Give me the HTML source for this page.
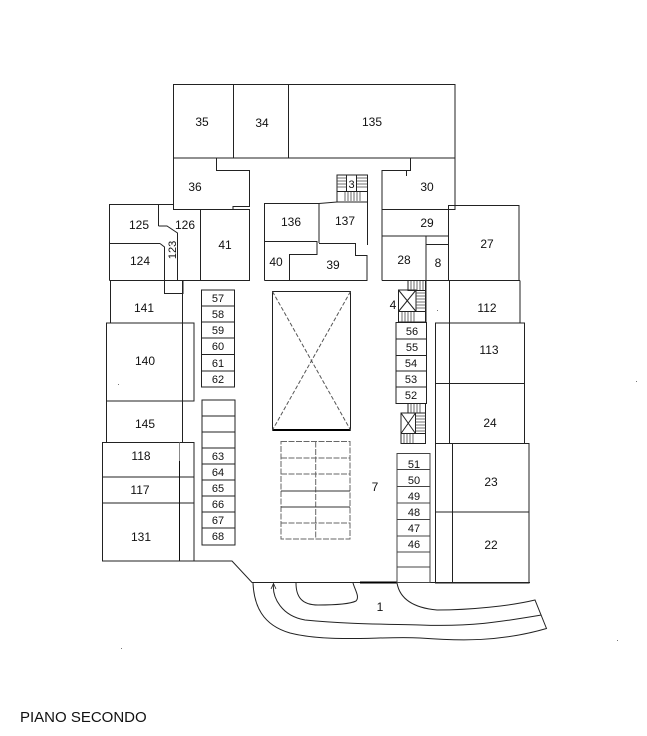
<!DOCTYPE html>
<html><head><meta charset="utf-8"><style>
html,body{margin:0;padding:0;background:#fff;}
svg{display:block;}
text{font-family:"Liberation Sans",sans-serif;fill:#111;}
</style></head><body>
<svg width="647" height="736" viewBox="0 0 647 736" xmlns="http://www.w3.org/2000/svg">
<g fill="none" stroke="#222" stroke-width="1">
<!-- top building -->
<rect x="173.5" y="84.5" width="281.5" height="73.5"/>
<line x1="233.5" y1="84.5" x2="233.5" y2="158"/>
<line x1="288.5" y1="84.5" x2="288.5" y2="158"/>
<!-- 36 -->
<path d="M173.5,158 L173.5,209.5 L233,209.5 L233,206.5 L249.5,206.5 L249.5,170.5 L216.5,170.5 L216.5,158"/>
<!-- 30 -->
<path d="M410.5,158 L410.5,170.5 L382,170.5 L382,209.5 L455,209.5 L455,158"/>
<line x1="406.5" y1="170" x2="406.5" y2="176"/>
<!-- 29 28 8 -->
<path d="M382,209.5 L382,280.5 M448.5,209.5 L448.5,280.5 M382,236 L448.5,236 M426,236 L426,280.5 M426,244.5 L448.5,244.5"/>
<!-- 27 -->
<rect x="448.5" y="205.5" width="70.5" height="75"/>
<line x1="382" y1="280.5" x2="520" y2="280.5"/>
<!-- 125/126/124/41 -->
<path d="M109.5,280.5 L109.5,204.5 L173.5,204.5"/>
<line x1="158.5" y1="204.5" x2="158.5" y2="226"/>
<line x1="109.5" y1="243.5" x2="160" y2="243.5"/>
<path d="M158.5,226 L167,226 L177.5,233 L177.5,280.5 L183,280.5 L183,293.5 L164.5,293.5 L164.5,247 L160,243.5"/>
<rect x="200.5" y="209.5" width="49" height="71"/>
<line x1="109.5" y1="280.5" x2="249.5" y2="280.5"/>
<!-- 141 140 145 -->
<line x1="110.5" y1="280.5" x2="110.5" y2="323"/>
<line x1="182.5" y1="280.5" x2="182.5" y2="442.5"/>
<rect x="106.5" y="323" width="87.5" height="78"/>
<line x1="106.5" y1="401" x2="106.5" y2="442.5"/>
<!-- 118 117 131 -->
<rect x="102.5" y="442.5" width="91.5" height="118.5"/>
<line x1="102.5" y1="477" x2="194" y2="477"/>
<line x1="102.5" y1="503" x2="194" y2="503"/>
<line x1="179.5" y1="442.5" x2="179.5" y2="461" stroke="#888"/>
<line x1="179.5" y1="461" x2="179.5" y2="561" stroke="#111"/>
<!-- bottom outline -->
<path d="M102.5,561 L232,561 L252,582.5 L530,582.5"/>
<line x1="360" y1="582.5" x2="397" y2="582.5" stroke="#000" stroke-width="2"/>
<!-- 136 137 40 39 -->
<path d="M264.5,280.5 L264.5,203.5 L319,203.5 L337,202"/>
<line x1="319" y1="203.5" x2="319" y2="243"/>
<path d="M264.5,241.5 L317,241.5 L317,254.5 L289.5,254.5 L289.5,280.5"/>
<path d="M319,243.5 L355.5,243.5 L355.5,255.5 L367,255.5 L367,280.5 L264.5,280.5"/>
<line x1="367.5" y1="175" x2="367.5" y2="245"/>
<!-- stair 3 -->
<rect x="337" y="175" width="30.5" height="27"/>
<rect x="346.5" y="175" width="10" height="16.5"/>
<path d="M337,191.5 L367.5,191.5" />
<g stroke="#444" stroke-width="0.8">
<path d="M337,178 H346.5 M337,181 H346.5 M337,184 H346.5 M337,187 H346.5 M357,178 H367 M357,181 H367 M357,184 H367 M357,187 H367"/>
<path d="M345,192 V201 M348,192 V201 M351,192 V201 M354,192 V201 M357,192 V201 M360,192 V201"/>
</g>
<!-- lockers 57-62 -->
<rect x="201.5" y="290" width="33" height="97"/>
<path d="M201.5,306 H234.5 M201.5,322 H234.5 M201.5,338 H234.5 M201.5,354.5 H234.5 M201.5,371 H234.5"/>
<!-- lockers 63-68 -->
<rect x="202" y="400" width="33" height="145"/>
<path d="M202,416 H235 M202,432 H235 M202,448 H235 M202,464 H235 M202,480 H235 M202,496 H235 M202,512 H235 M202,528 H235"/>
<!-- X box -->
<rect x="272.5" y="291.5" width="78" height="138.5"/>
<line x1="272.5" y1="430" x2="350.5" y2="430" stroke="#000" stroke-width="2"/>
<path d="M272.5,291.5 L350.5,430 M350.5,291.5 L272.5,430" stroke="#555" stroke-dasharray="4,2"/>
<!-- parking grid -->
<g stroke="#666" stroke-dasharray="6,1.5">
<rect x="281" y="441.5" width="69" height="97.5"/>
<path d="M315.7,441.5 V539 M281,458 H350 M281,474 H350 M281,523 H350"/>
</g>
<path d="M281,491 H350 M281,507 H350" stroke="#333"/>
<!-- stair 4 -->
<rect x="408" y="280.5" width="17.5" height="10"/>
<rect x="398.5" y="290" width="17.5" height="21.5"/>
<path d="M398.5,290 L416,311.5 M416,290 L398.5,311.5"/>
<rect x="398.5" y="311.5" width="27" height="10.5"/>
<line x1="425.5" y1="280.5" x2="425.5" y2="322"/>
<g stroke="#444" stroke-width="0.8">
<path d="M411,281 V290 M414,281 V290 M417,281 V290 M420,281 V290 M423,281 V290"/>
<path d="M416,293 H425.5 M416,296 H425.5 M416,299 H425.5 M416,302 H425.5 M416,305 H425.5 M416,308 H425.5"/>
<path d="M402,312 V322 M405,312 V322 M408,312 V322 M411,312 V322 M414,312 V322"/>
</g>
<!-- lockers 56-52 -->
<rect x="396" y="322.5" width="30.5" height="81"/>
<path d="M396,339 H426.5 M396,355.5 H426.5 M396,371 H426.5 M396,387 H426.5"/>
<!-- stair 5 -->
<rect x="408" y="403.5" width="17.5" height="9.5"/>
<rect x="401" y="413" width="14.5" height="20.5"/>
<path d="M401,413 L415.5,433.5 M415.5,413 L401,433.5"/>
<rect x="401" y="433.5" width="24.5" height="10"/>
<line x1="425.5" y1="403.5" x2="425.5" y2="443.5"/>
<g stroke="#444" stroke-width="0.8">
<path d="M411,404 V413 M414,404 V413 M417,404 V413 M420,404 V413"/>
<path d="M415.5,416 H425.5 M415.5,419 H425.5 M415.5,422 H425.5 M415.5,425 H425.5 M415.5,428 H425.5 M415.5,431 H425.5"/>
<path d="M404,434 V443 M407,434 V443 M410,434 V443 M413,434 V443"/>
</g>
<!-- lockers 51-46 -->
<rect x="397" y="453.5" width="33" height="129" stroke="#444"/>
<path d="M397,469.5 H430 M397,486.5 H430 M397,503 H430 M397,519.5 H430 M397,536 H430 M397,552 H430 M397,567 H430" stroke="#444"/>
<!-- right column -->
<line x1="426" y1="280.5" x2="426" y2="323"/>
<line x1="449.5" y1="280.5" x2="449.5" y2="383.5"/>
<line x1="520" y1="280.5" x2="520" y2="323"/>
<rect x="435.5" y="323" width="89" height="60.5"/>
<rect x="449.5" y="383.5" width="75" height="60"/>
<line x1="435.5" y1="383.5" x2="435.5" y2="583"/>
<rect x="435.5" y="443.5" width="93.5" height="139.5"/>
<line x1="435.5" y1="512" x2="529" y2="512"/>
<line x1="452.5" y1="443.5" x2="452.5" y2="583"/>
<!-- road -->
<path d="M253,583 C254,605 262,625 290,633 C330,643 380,636 420,638 C460,641 500,642 546.5,628.5 L535,600 C510,606 470,610 437,610 C415,608 400,600 397,583"/>
<path d="M273.5,583.5 C272,598 282,616 305,620 C345,624 380,624 420,625 C470,627 500,622 541.5,615"/>
<path d="M296,583 C296,597 302,605 318,605 C335,605 350,604 356,601 C360,597 355,590 353,583"/>
<path d="M271,589 L273.5,583.5 L276,589" stroke-width="0.8"/>
</g>
<!-- tiny dots -->
<g fill="#777">
<rect x="118" y="384" width="1" height="1"/>
<rect x="636" y="381" width="1" height="1"/>
<rect x="617" y="640" width="1" height="1"/>
<rect x="121" y="648" width="1" height="1"/>
<rect x="437" y="310" width="1" height="1"/>
</g>
<!-- labels -->
<g font-size="12" text-anchor="middle">
<text x="202" y="126">35</text>
<text x="262" y="127">34</text>
<text x="372" y="126">135</text>
<text x="195" y="191">36</text>
<text x="139" y="229">125</text>
<text x="185" y="229">126</text>
<text x="140" y="265">124</text>
<text x="225" y="249">41</text>
<text x="291" y="226">136</text>
<text x="276" y="266">40</text>
<text x="345" y="225">137</text>
<text x="333" y="269">39</text>
<text x="427" y="191">30</text>
<text x="427" y="227">29</text>
<text x="404" y="264">28</text>
<text x="438" y="267">8</text>
<text x="487" y="248">27</text>
<text x="144" y="312">141</text>
<text x="145" y="365">140</text>
<text x="145" y="428">145</text>
<text x="141" y="460">118</text>
<text x="140" y="494">117</text>
<text x="141" y="541">131</text>
<text x="487" y="312">112</text>
<text x="489" y="354">113</text>
<text x="490" y="427">24</text>
<text x="491" y="486">23</text>
<text x="491" y="549">22</text>
<text x="375" y="491">7</text>
<text x="380" y="611">1</text>
<text x="393" y="309">4</text>
</g>
<text x="351.5" y="188" font-size="11" text-anchor="middle">3</text>
<text x="0" y="0" font-size="11" text-anchor="middle" transform="translate(176,250) rotate(-90)">123</text>
<g font-size="11" text-anchor="middle">
<text x="218" y="302">57</text>
<text x="218" y="318">58</text>
<text x="218" y="334">59</text>
<text x="218" y="350">60</text>
<text x="218" y="367">61</text>
<text x="218" y="383">62</text>
<text x="218" y="460">63</text>
<text x="218" y="476">64</text>
<text x="218" y="492">65</text>
<text x="218" y="508">66</text>
<text x="218" y="524">67</text>
<text x="218" y="540">68</text>
<text x="412" y="335">56</text>
<text x="412" y="351">55</text>
<text x="411" y="367">54</text>
<text x="411" y="383">53</text>
<text x="411" y="399">52</text>
<text x="414" y="468">51</text>
<text x="414" y="484">50</text>
<text x="414" y="500">49</text>
<text x="414" y="516">48</text>
<text x="414" y="532">47</text>
<text x="414" y="548">46</text>
</g>
<text x="20" y="722" font-size="15">PIANO SECONDO</text>
</svg>
</body></html>
